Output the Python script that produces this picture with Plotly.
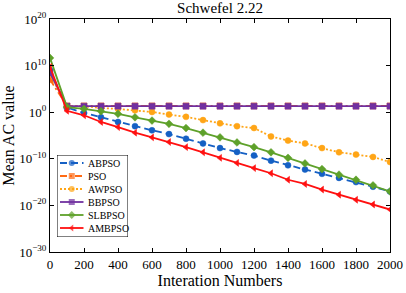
import plotly.graph_objects as go

iterations = list(range(0, 2001, 100))

abpso = [1e9, 1e1, 7e-1, 8e-2, 8e-3, 1e-3, 1.3e-4, 2e-5, 2e-6, 2e-7, 2e-8, 3e-9, 5e-10,
         4e-11, 4e-12, 5e-13, 6e-14, 8e-15, 1e-15, 1e-16, 1e-17]
pso = [1e7] + [22] * 20
awpso = [1.3e8, 20, 18.6, 8, 5, 2.5, 1.1, 0.32, 0.1, 0.02, 4e-3, 1e-3, 4e-4, 6.3e-6, 8e-7,
         2e-7, 2e-8, 2.5e-9, 8e-10, 2.5e-10, 2e-11]
bbpso = [3e8] + [20] * 20
slbpso = [4.5e11, 12.6, 5, 1.6, 0.44, 0.08, 0.016, 3.2e-3, 4e-4, 4e-5, 4e-6, 3.2e-7, 3.2e-8,
          2.5e-9, 1.6e-10, 1e-11, 6.3e-13, 4e-14, 3.2e-15, 2e-16, 1e-17]
ambpso = [5e9, 2, 0.22, 8e-3, 6.3e-4, 4e-5, 4e-6, 4e-7, 3.2e-8, 2.5e-9, 1.6e-10, 1.3e-11, 1e-12,
          8e-14, 3.2e-15, 4e-16, 2.5e-17, 2e-18, 1.6e-19, 1.6e-20, 1.3e-21]

series_names = ["ABPSO", "PSO", "AWPSO", "BBPSO", "SLBPSO", "AMBPSO"]
series_values = [abpso, pso, awpso, bbpso, slbpso, ambpso]

x_tick_vals = list(range(0, 2001, 200))
y_tick_vals = [1e-30, 1e-20, 1e-10, 1e0, 1e10, 1e20]
y_tick_text = ["10<sup>−30</sup>", "10<sup>−20</sup>", "10<sup>−10</sup>", "10<sup>0</sup>",
               "10<sup>10</sup>", "10<sup>20</sup>"]

styles = {
    "ABPSO": dict(color="#1560c4", dash="7px,4px", symbol="circle"),
    "PSO": dict(color="#ff6a13", dash="7px,3px,2px,3px", symbol="square"),
    "AWPSO": dict(color="#ffa516", dash="2px,2px", symbol="circle"),
    "BBPSO": dict(color="#7030a0", dash="solid", symbol="square-x"),
    "SLBPSO": dict(color="#5ea12a", dash="solid", symbol="diamond"),
    "AMBPSO": dict(color="#ff1010", dash="solid", symbol="triangle-left"),
}

FONT = "Liberation Serif, Times New Roman, serif"

fig = go.Figure()
for name, vals in zip(series_names, series_values):
    st = styles[name]
    fig.add_trace(go.Scatter(
        x=iterations, y=vals, name=name, mode="lines+markers", showlegend=False,
        line=dict(color=st["color"], dash=st["dash"], width=1.8),
        marker=dict(symbol=st["symbol"], size=6, color=st["color"],
                    line=dict(width=0.5, color=st["color"])),
    ))

# --- compact legend box (layout of the key, drawn on an auxiliary pixel-scaled axis pair) ---
PLOT_L, PLOT_R, PLOT_T, PLOT_B = 50, 390, 19, 252
BOX_L, BOX_R, BOX_T, BOX_B = 57, 128, 155, 237
row_gap = 13.0
first_row = 163.0
sample_x0, sample_x1, text_x = 60.0, 83.5, 86.0

fig.add_shape(type="rect", xref="x2", yref="y2", x0=BOX_L, x1=BOX_R, y0=BOX_T, y1=BOX_B,
              fillcolor="white", line=dict(color="black", width=1), layer="below")
for i, name in enumerate(series_names):
    st = styles[name]
    ry = first_row + i * row_gap
    mid = (sample_x0 + sample_x1) / 2
    fig.add_trace(go.Scatter(
        x=[sample_x0, mid, sample_x1], y=[ry, ry, ry], xaxis="x2", yaxis="y2",
        mode="lines+markers", showlegend=False, hoverinfo="skip",
        line=dict(color=st["color"], dash=st["dash"], width=1.8),
        marker=dict(symbol=st["symbol"], size=[0, 6, 0], color=st["color"],
                    line=dict(width=0)),
    ))
    fig.add_annotation(x=text_x, y=ry, xref="x2", yref="y2", text=name, showarrow=False,
                       xanchor="left", yanchor="middle",
                       font=dict(size=10, family=FONT, color="black"))

pw = PLOT_R - PLOT_L
ph = PLOT_B - PLOT_T

fig.update_layout(
    width=406, height=293,
    margin=dict(l=PLOT_L, r=406 - PLOT_R, t=PLOT_T, b=293 - PLOT_B, autoexpand=False),
    paper_bgcolor="white", plot_bgcolor="white",
    font=dict(family=FONT, color="black", size=13),
    title=dict(text="Schwefel 2.22", x=0.5, xref="paper", xanchor="center",
               y=1 - 8 / 293, yanchor="middle",
               font=dict(size=15, family=FONT, color="black")),
    showlegend=False,
    xaxis=dict(
        range=[0, 2000], tickvals=x_tick_vals, automargin=False,
        showline=True, linecolor="black", linewidth=1, mirror="ticks",
        ticks="inside", ticklen=4, tickcolor="black", showgrid=False, zeroline=False,
        title=dict(text="Interation Numbers", font=dict(size=16, family=FONT), standoff=4),
        tickfont=dict(size=13, family=FONT, color="black"),
    ),
    yaxis=dict(
        type="log", range=[-30, 20], tickvals=y_tick_vals, ticktext=y_tick_text,
        automargin=False,
        showline=True, linecolor="black", linewidth=1, mirror="ticks",
        ticks="inside", ticklen=4, tickcolor="black", showgrid=False, zeroline=False,
        title=dict(text="Mean AC value", font=dict(size=16, family=FONT), standoff=0),
        tickfont=dict(size=13, family=FONT, color="black"),
    ),
    xaxis2=dict(domain=[(BOX_L - PLOT_L) / pw, (BOX_R - PLOT_L) / pw], range=[BOX_L, BOX_R],
                visible=False, anchor="y2", fixedrange=True),
    yaxis2=dict(domain=[1 - (BOX_B - PLOT_T) / ph, 1 - (BOX_T - PLOT_T) / ph],
                range=[BOX_B, BOX_T], visible=False, anchor="x2", fixedrange=True),
)

fig.write_html("out.html", config={"displayModeBar": False},
               post_script="document.body.style.margin='0';document.body.style.padding='0';")
